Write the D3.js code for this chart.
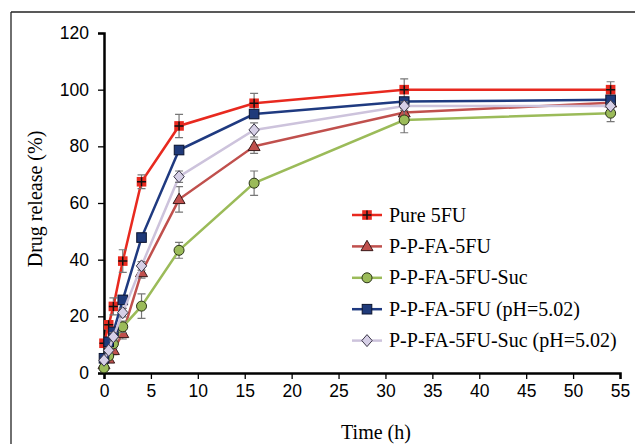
<!DOCTYPE html>
<html>
<head>
<meta charset="utf-8">
<script src="https://d3js.org/d3.v7.min.js"></script>
<style>
  body { margin: 0; background: #fff; }
  .tick text { font-family: "Liberation Sans", Arial, sans-serif; font-size: 17.5px; fill: #000; }
  .axis path, .axis line { stroke: #000; }
  .serif { font-family: "Liberation Serif", "Times New Roman", serif; fill: #000; }
</style>
</head>
<body>
<svg id="chart" width="635" height="444"></svg>
<script>

// sampling times (h)
var times = [0, 0.5, 1, 2, 4, 8, 16, 32, 54];

// release (%) per formulation
var pure5fu   = [10.5, 17, 23.5, 39.5, 67.5, 87.2, 95.2, 100, 100];
var ppfa      = [3, 5, 8, 14, 35.5, 61.3, 80, 91.9, 95.4];
var ppfaSuc   = [1.8, 6, 10.3, 16.3, 23.6, 43.3, 67, 89.3, 91.7];
var ppfaPh    = [5.2, 11, 14.5, 25.8, 47.8, 78.7, 91.4, 95.8, 96.4];
var ppfaSucPh = [4.5, 8, 12.8, 21.3, 37.8, 69.3, 85.8, 94.2, 94.2];

// standard deviation bars
var pure5fuErr   = [1, 1.5, 3, 4, 2.4, 4.1, 3.5, 3.8, 2.8];
var ppfaErr      = [0.5, 1, 1.5, 2, 2, 4.5, 2.5, 1.5, 1];
var ppfaSucErr   = [0.5, 1, 1.5, 2, 4.3, 2.8, 4.3, 4.5, 3];
var ppfaPhErr    = [0.5, 1, 1.5, 1.5, 1.5, 1.5, 1.5, 1, 1];
var ppfaSucPhErr = [0.5, 1, 1.5, 1.5, 1.5, 2, 2.5, 1.5, 1];

var seriesNames = ["Pure 5FU", "P-P-FA-5FU", "P-P-FA-5FU-Suc", "P-P-FA-5FU (pH=5.02)", "P-P-FA-5FU-Suc (pH=5.02)"];

var xTicks = [0, 5, 10, 15, 20, 25, 30, 35, 40, 45, 50, 55];
var yTicks = [0, 20, 40, 60, 80, 100, 120];

var series = [
  {name: seriesNames[0], vals: pure5fu,   err: pure5fuErr,   line: "#e8291f", fill: "#e8291f", stroke: "none",    shape: "plus"},
  {name: seriesNames[1], vals: ppfa,      err: ppfaErr,      line: "#c0504d", fill: "#c0504d", stroke: "#3a1a1a", shape: "triangle"},
  {name: seriesNames[2], vals: ppfaSuc,   err: ppfaSucErr,   line: "#9bbb59", fill: "#9bbb59", stroke: "#2a3318", shape: "circle"},
  {name: seriesNames[3], vals: ppfaPh,    err: ppfaPhErr,    line: "#1f3a80", fill: "#1f3a7a", stroke: "#0c1530", shape: "square"},
  {name: seriesNames[4], vals: ppfaSucPh, err: ppfaSucPhErr, line: "#cdc3dc", fill: "#d6cfe6", stroke: "#3b3748", shape: "diamond"}
];

var svg = d3.select("#chart");

// outer frame
svg.append("line").attr("x1", 11).attr("y1", 12).attr("x2", 635).attr("y2", 12).attr("stroke", "#222").attr("stroke-width", 1.3);
svg.append("line").attr("x1", 11).attr("y1", 12).attr("x2", 11).attr("y2", 444).attr("stroke", "#222").attr("stroke-width", 1.3);

var x = d3.scaleLinear().domain([0, 55]).range([104, 620]);
var y = d3.scaleLinear().domain([0, 120]).range([373, 33]);

svg.append("g")
   .attr("class", "axis")
   .attr("transform", "translate(0," + y(0) + ")")
   .call(d3.axisBottom(x).tickValues(xTicks).tickSize(6).tickPadding(6))
   .call(function(g) { g.select(".domain").attr("stroke-width", 2.5); g.selectAll("line").attr("stroke-width", 1.3); });

svg.append("g")
   .attr("class", "axis")
   .attr("transform", "translate(" + x(0) + ",0)")
   .call(d3.axisLeft(y).tickValues(yTicks).tickSize(6).tickPadding(9))
   .call(function(g) { g.select(".domain").attr("stroke-width", 2.5); g.selectAll("line").attr("stroke-width", 1.3); });

svg.append("text").attr("class", "serif")
   .attr("x", 376).attr("y", 439)
   .attr("text-anchor", "middle").attr("font-size", 20)
   .text("Time (h)");

svg.append("text").attr("class", "serif")
   .attr("transform", "translate(42,199) rotate(-90)")
   .attr("text-anchor", "middle").attr("font-size", 20)
   .text("Drug release (%)");

var line = d3.line()
  .x(function(d) { return x(d[0]); })
  .y(function(d) { return y(d[1]); });

function drawMarker(g, s, cx, cy) {
  var m;
  if (s.shape == "circle") {
    g.append("circle").attr("cx", cx).attr("cy", cy).attr("r", 5)
     .attr("fill", s.fill).attr("stroke", s.stroke).attr("stroke-width", 1);
  } else if (s.shape == "square" || s.shape == "plus") {
    g.append("rect").attr("x", cx - 4.8).attr("y", cy - 4.8).attr("width", 9.6).attr("height", 9.6)
     .attr("fill", s.fill).attr("stroke", s.stroke).attr("stroke-width", 1);
    if (s.shape == "plus") {
      g.append("path").attr("d", "M" + (cx - 4.5) + "," + cy + "H" + (cx + 4.5) + "M" + cx + "," + (cy - 4.5) + "V" + (cy + 4.5))
       .attr("stroke", "#111").attr("stroke-width", 1.5);
    }
  } else if (s.shape == "triangle") {
    m = d3.symbol().type(d3.symbolTriangle).size(62)();
    g.append("path").attr("d", m).attr("transform", "translate(" + cx + "," + (cy + 0.8) + ")")
     .attr("fill", s.fill).attr("stroke", s.stroke).attr("stroke-width", 1);
  } else if (s.shape == "diamond") {
    g.append("path").attr("d", "M0,-6L5.2,0L0,6L-5.2,0Z").attr("transform", "translate(" + cx + "," + cy + ")")
     .attr("fill", s.fill).attr("stroke", s.stroke).attr("stroke-width", 1);
  }
}

series.forEach(function(s) {
  var g = svg.append("g");
  var pts = times.map(function(t, i) { return [t, s.vals[i]]; });

  g.append("path").datum(pts)
   .attr("d", line)
   .attr("fill", "none")
   .attr("stroke", s.line)
   .attr("stroke-width", 2.5);

  // error bars
  times.forEach(function(t, i) {
    var cx = x(t), lo = y(s.vals[i] - s.err[i]), hi = y(s.vals[i] + s.err[i]);
    g.append("path")
     .attr("d", "M" + cx + "," + lo + "V" + hi + "M" + (cx - 4) + "," + lo + "H" + (cx + 4) + "M" + (cx - 4) + "," + hi + "H" + (cx + 4))
     .attr("stroke", "#777").attr("stroke-width", 1.2).attr("fill", "none");
  });

  times.forEach(function(t, i) {
    drawMarker(g, s, x(t), y(s.vals[i]));
  });
});

// legend
var legend = svg.append("g");
series.forEach(function(s, i) {
  var ly = 215 + i * 31.4;
  legend.append("line").attr("x1", 352).attr("x2", 382).attr("y1", ly).attr("y2", ly)
        .attr("stroke", s.line).attr("stroke-width", 2.5);
  drawMarker(legend, s, 367, ly);
  legend.append("text").attr("class", "serif")
        .attr("x", 389).attr("y", ly + 6.5)
        .attr("font-size", 20)
        .text(s.name);
});

</script>
</body>
</html>
